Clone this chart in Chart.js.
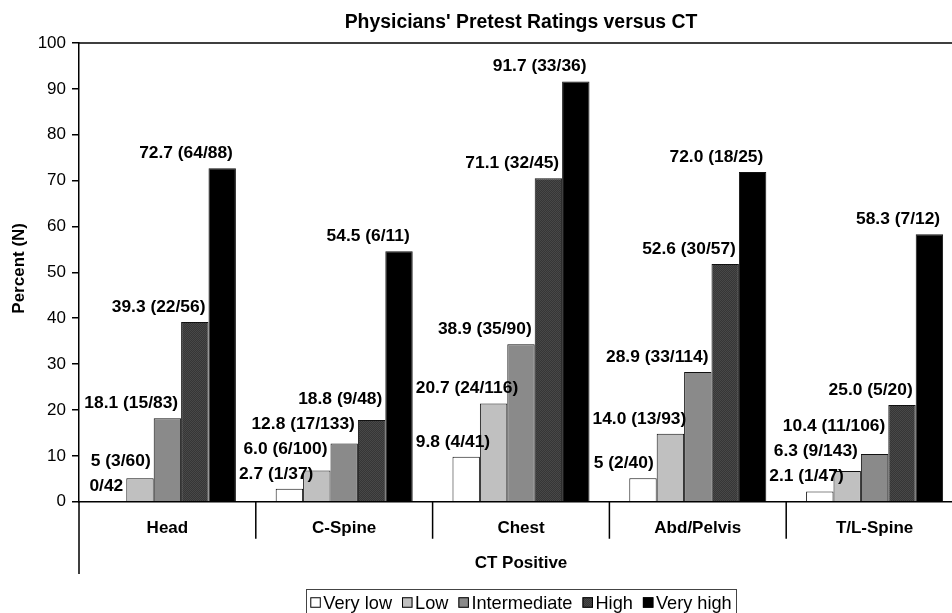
<!DOCTYPE html>
<html>
<head>
<meta charset="utf-8">
<style>
  html, body { margin: 0; padding: 0; background: #fff; overflow: hidden; }
  #wrap { width: 966px; height: 613px; }
</style>
<script src="https://cdn.jsdelivr.net/npm/chart.js@4.4.1/dist/chart.umd.min.js"></script>
</head>
<body>
<div id="wrap"><canvas id="ctChart" width="966" height="613"></canvas></div>
<script>
// categories and series (bar heights)
const categories = ["Head", "C-Spine", "Chest", "Abd/Pelvis", "T/L-Spine"];
const seriesNames = ["Very low", "Low", "Intermediate", "High", "Very high"];
const veryLow = [0, 2.8, 9.8, 5.1, 2.2];
const low = [5.1, 6.8, 21.4, 14.8, 6.7];
const intermediate = [18.2, 12.7, 34.3, 28.3, 10.4];
const high = [39.2, 17.8, 70.5, 51.8, 21.1];
const veryHigh = [72.7, 54.6, 91.6, 71.9, 58.3];

// printed labels above bars
const veryLowLabels = ["0/42", "2.7 (1/37)", "9.8 (4/41)", "5 (2/40)", "2.1 (1/47)"];
const lowLabels = ["5 (3/60)", "6.0 (6/100)", "20.7 (24/116)", "14.0 (13/93)", "6.3 (9/143)"];
const intermediateLabels = ["18.1 (15/83)", "12.8 (17/133)", "38.9 (35/90)", "28.9 (33/114)", "10.4 (11/106)"];
const highLabels = ["39.3 (22/56)", "18.8 (9/48)", "71.1 (32/45)", "52.6 (30/57)", "25.0 (5/20)"];
const veryHighLabels = ["72.7 (64/88)", "54.5 (6/11)", "91.7 (33/36)", "72.0 (18/25)", "58.3 (7/12)"];

const yTicks = [0, 10, 20, 30, 40, 50, 60, 70, 80, 90, 100];

const FONT = "'Liberation Sans', Arial, Helvetica, sans-serif";

const ctx = document.getElementById("ctChart").getContext("2d");

// fine stipple dark grey for the "High" bars
const stipple = ctx.createPattern((function () {
  const c = document.createElement("canvas");
  c.width = 2; c.height = 2;
  const g = c.getContext("2d");
  g.fillStyle = "#363636";
  g.fillRect(0, 0, 2, 2);
  g.fillStyle = "#484848";
  g.fillRect(0, 0, 1, 1);
  g.fillRect(1, 1, 1, 1);
  return c;
})(), "repeat");

const fills = ["#ffffff", "#c0c0c0", "#8a8a8a", stipple, "#000000"];
const allValues = [veryLow, low, intermediate, high, veryHigh];
const allLabels = [veryLowLabels, lowLabels, intermediateLabels, highLabels, veryHighLabels];

const decorations = {
  id: "decorations",
  afterDatasetsDraw(chart) {
    const c = chart.ctx;
    const area = chart.chartArea;
    const xs = chart.scales.x;
    const nSets = chart.data.datasets.length;

    // value labels: right-aligned on the bar, kept clear of the previous group
    // and of the label of the neighbouring bar
    c.save();
    c.font = "bold 17.4px " + FONT;
    c.fillStyle = "#000";
    c.textAlign = "left";
    c.textBaseline = "middle";
    for (let j = 0; j < categories.length; j++) {
      let prev = null;
      for (let i = 0; i < nSets; i++) {
        const bar = chart.getDatasetMeta(i).data[j];
        const text = chart.data.datasets[i].valueLabels[j];
        const w = c.measureText(text).width;
        let ly = bar.y - 15;
        let left = bar.x + bar.width / 2 - 3 - w;
        if (j > 0) {
          for (let k = 0; k < nSets; k++) {
            const pb = chart.getDatasetMeta(k).data[j - 1];
            const pRight = pb.x + pb.width / 2;
            if (pb.y < ly + 8 && pRight + 3 > left) left = pRight + 3;
          }
        }
        if (prev && left < prev.right && ly > prev.y - 25) ly = prev.y - 25;
        c.fillText(text, left, ly);
        prev = { right: left + w, y: ly };
      }
    }
    c.restore();

    c.save();
    c.strokeStyle = "#000";
    c.lineWidth = 1.5;
    // top frame line
    c.beginPath();
    c.moveTo(area.left, area.top);
    c.lineTo(area.right, area.top);
    c.moveTo(area.right, area.top);
    c.lineTo(area.right, area.bottom);
    // y axis runs down past the category row
    c.moveTo(area.left, area.bottom);
    c.lineTo(area.left, 574);
    c.stroke();

    // category separators
    const half = (xs.getPixelForValue(1) - xs.getPixelForValue(0)) / 2;
    c.beginPath();
    for (let i = 0; i < categories.length; i++) {
      const sx = xs.getPixelForValue(i) + half;
      c.moveTo(sx, area.bottom);
      c.lineTo(sx, area.bottom + 37);
    }
    c.stroke();

    // category names
    c.fillStyle = "#000";
    c.textAlign = "center";
    c.textBaseline = "middle";
    c.font = "bold 17px " + FONT;
    categories.forEach(function (name, i) {
      c.fillText(name, xs.getPixelForValue(i), area.bottom + 27);
    });

    // axis titles and chart title
    const midX = (area.left + area.right) / 2;
    c.fillText("CT Positive", midX, 563);
    c.save();
    c.translate(19, (area.top + area.bottom) / 2 - 4);
    c.rotate(-Math.PI / 2);
    c.fillText("Percent (N)", 0, 0);
    c.restore();
    c.font = "bold 19.4px " + FONT;
    c.fillText("Physicians' Pretest Ratings versus CT", midX, 23);

    // legend box
    c.font = "18.2px " + FONT;
    const box = 10.5, gapText = 2.5, gapItem = 10;
    let total = 0;
    const widths = seriesNames.map(function (n) { return c.measureText(n).width; });
    widths.forEach(function (w) { total += box + gapText + w; });
    total += gapItem * (seriesNames.length - 1);
    let lx = midX - total / 2;
    const ly = 602.5;
    c.lineWidth = 1;
    c.strokeStyle = "#444";
    c.strokeRect(Math.round(lx - 4.5) + 0.5, 589.5, Math.round(total + 9), 30);
    c.textAlign = "left";
    seriesNames.forEach(function (n, i) {
      c.fillStyle = fills[i];
      c.fillRect(lx, ly - box / 2, box, box);
      c.strokeStyle = "#000";
      c.strokeRect(lx + 0.5, ly - box / 2 + 0.5, box - 1, box - 1);
      c.fillStyle = "#000";
      c.fillText(n, lx + box + gapText, ly + 1);
      lx += box + gapText + widths[i] + gapItem;
    });
    c.restore();
  }
};

new Chart(ctx, {
  type: "bar",
  data: {
    labels: categories,
    datasets: seriesNames.map(function (name, i) {
      return {
        label: name,
        data: allValues[i],
        valueLabels: allLabels[i],
        backgroundColor: fills[i],
        borderColor: "#111",
        borderWidth: 1,
        categoryPercentage: 0.775,
        barPercentage: 1.0
      };
    })
  },
  options: {
    responsive: false,
    animation: false,
    devicePixelRatio: 1,
    layout: { padding: { left: 0, top: 43, right: 3, bottom: 0 } },
    plugins: {
      legend: { display: false },
      title: { display: false },
      tooltip: { enabled: false }
    },
    scales: {
      x: {
        ticks: { display: false },
        grid: { display: false, drawTicks: false },
        border: { display: true, color: "#000", width: 1.5 },
        afterFit: function (s) { s.height = 111.3; }
      },
      y: {
        min: 0,
        max: 100,
        afterBuildTicks: function (s) { s.ticks = yTicks.map(function (v) { return { value: v }; }); },
        ticks: { color: "#000", font: { family: FONT, size: 17 }, padding: 6 },
        grid: { drawOnChartArea: false, drawTicks: true, tickLength: 7, color: "#000", lineWidth: 1.5 },
        border: { display: true, color: "#000", width: 1.5 },
        afterFit: function (s) { s.width = 79; }
      }
    }
  },
  plugins: [decorations]
});
</script>
</body>
</html>
